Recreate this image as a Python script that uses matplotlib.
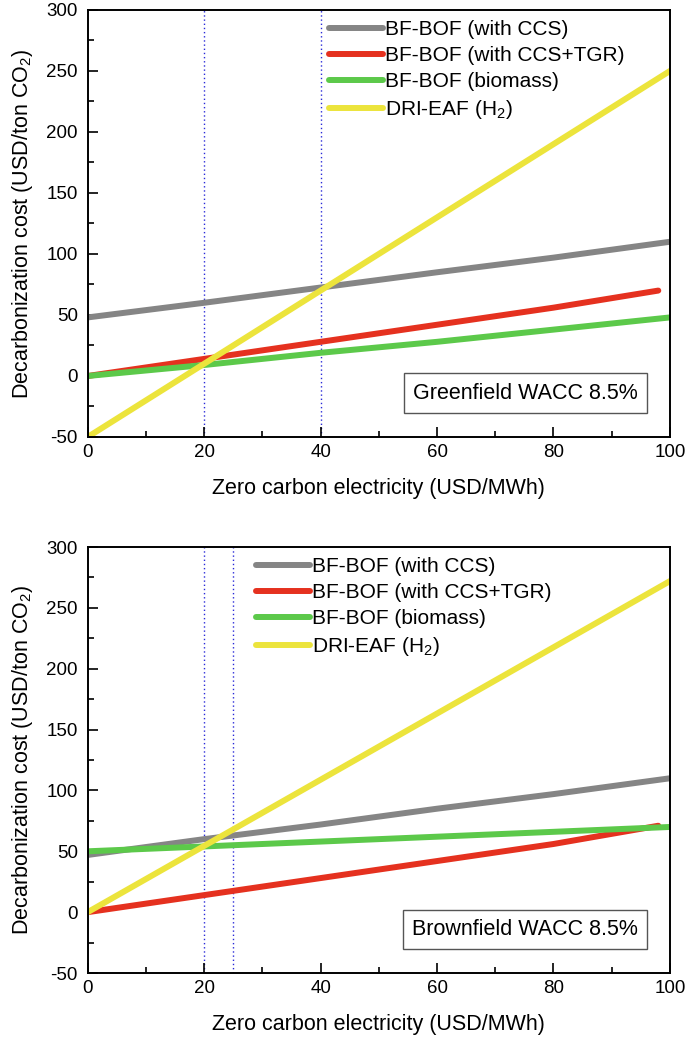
import matplotlib
matplotlib.use("Agg")
import matplotlib.pyplot as plt
from matplotlib.ticker import MultipleLocator

plt.rcParams['font.family'] = ['Liberation Sans', 'DejaVu Sans']
plt.rcParams['mathtext.fontset'] = 'custom'
plt.rcParams['mathtext.rm'] = 'Liberation Sans'
plt.rcParams['axes.unicode_minus'] = False

# x grid of the curves (USD/MWh)
elec = [0, 20, 40, 60, 80, 100]
elec_tgr = [0, 20, 40, 60, 80, 98]

# Greenfield WACC 8.5%
green_ccs = [48, 60, 72.5, 85, 97, 110]
green_tgr = [0, 14, 28, 42, 56, 70]
green_bio = [0, 9, 19, 28, 38, 48]
green_h2 = [-50, 10, 70, 130, 190, 250]
green_marks = [20, 40]

# Brownfield WACC 8.5%
brown_ccs = [47, 60, 72, 85, 97, 110]
brown_tgr = [0, 14, 28, 42, 56, 71]
brown_bio = [50, 54, 58, 62, 66, 70]
brown_h2 = [0, 54.4, 108.8, 163.2, 217.6, 272]
brown_marks = [20, 25]

labels = ["BF-BOF (with CCS)", "BF-BOF (with CCS+TGR)",
          "BF-BOF (biomass)", "DRI-EAF (H$_2$)"]
colors = ["#858585", "#e5311f", "#5cc94a", "#ece43c"]


def draw_panel(ax, ccs, tgr, bio, h2, marks, title, leg_x):
    for m in marks:
        ax.axvline(m, color="#2a2ad8", lw=1.0, ls=(0, (1, 2)), zorder=1)
    series = [(elec, ccs), (elec_tgr, tgr), (elec, bio), (elec, h2)]
    for (xs, ys), lab, col in zip(series, labels, colors):
        ax.plot(xs, ys, color=col, lw=4.3, label=lab,
                solid_capstyle='round', zorder=2)
    ax.set_xlim(0, 100)
    ax.set_ylim(-50, 300)
    ax.xaxis.set_major_locator(MultipleLocator(20))
    ax.xaxis.set_minor_locator(MultipleLocator(10))
    ax.yaxis.set_major_locator(MultipleLocator(50))
    ax.yaxis.set_minor_locator(MultipleLocator(25))
    ax.tick_params(which='both', direction='in', top=False, right=False,
                   labelsize=13.5, width=1.2)
    ax.tick_params(which='major', length=7)
    ax.tick_params(which='minor', length=4)
    ax.tick_params(axis='x', pad=5)
    ax.tick_params(axis='y', pad=7)
    for s in ax.spines.values():
        s.set_linewidth(1.4)
    ax.set_xlabel("Zero carbon electricity (USD/MWh)", fontsize=15.5,
                  labelpad=12)
    ax.set_ylabel("Decarbonization cost (USD/ton CO$_2$)", fontsize=15.5,
                  labelpad=8)
    leg = ax.legend(loc='upper left', bbox_to_anchor=(leg_x, 0.995),
                    frameon=False, fontsize=15, handlelength=2.6,
                    handletextpad=0.1, labelspacing=0.33, borderaxespad=0.0)
    for h in leg.get_lines():
        h.set_linewidth(4.3)
    ax.text(0.945, 0.103, title, transform=ax.transAxes, fontsize=15.5,
            ha='right', va='center',
            bbox=dict(boxstyle='square,pad=0.42', fc='white', ec='#555555',
                      lw=1.0))


fig = plt.figure(figsize=(6.85, 10.37), dpi=100)
ax1 = fig.add_axes([0.128, 0.5786, 0.850, 0.4118])
ax2 = fig.add_axes([0.128, 0.0617, 0.850, 0.4108])

draw_panel(ax1, green_ccs, green_tgr, green_bio, green_h2, green_marks,
           "Greenfield WACC 8.5%", 0.40)
draw_panel(ax2, brown_ccs, brown_tgr, brown_bio, brown_h2, brown_marks,
           "Brownfield WACC 8.5%", 0.275)

fig.savefig("out.png", dpi=100)
